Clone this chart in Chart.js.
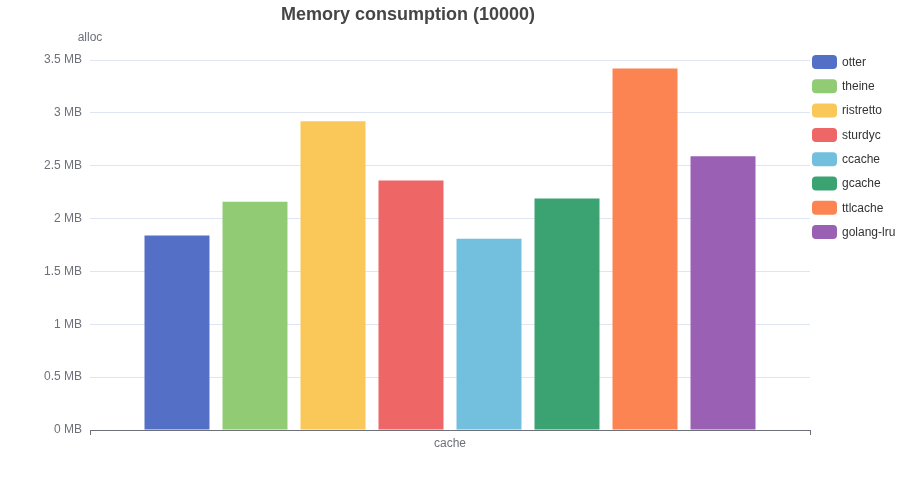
<!DOCTYPE html>
<html>
<head>
<meta charset="utf-8">
<script src="https://cdn.jsdelivr.net/npm/chart.js@4"></script>
<style>
  body { margin: 0; background: #fff; }
  #wrap { width: 900px; height: 500px; }
</style>
</head>
<body>
<div id="wrap"><canvas id="myChart"></canvas></div>
<script>
const categories = ['cache'];
const caches = ['otter', 'theine', 'ristretto', 'sturdyc', 'ccache', 'gcache', 'ttlcache', 'golang-lru'];
// alloc, MB
const allocMB = [1.84, 2.16, 2.92, 2.36, 1.81, 2.19, 3.42, 2.59];
const colors = ['#5470c6', '#91cc75', '#fac858', '#ee6666', '#73c0de', '#3ba272', '#fc8452', '#9a60b4'];
const yTicks = [0, 0.5, 1, 1.5, 2, 2.5, 3, 3.5];

const FONT = '"Liberation Sans", Arial, sans-serif';
Chart.defaults.font.family = FONT;

const extras = {
  id: 'extras',
  afterDraw(chart) {
    const c = chart.ctx;
    const area = chart.chartArea;
    c.save();
    // title
    c.fillStyle = '#464646';
    c.font = 'bold 18px ' + FONT;
    c.textAlign = 'center';
    c.textBaseline = 'middle';
    c.fillText('Memory consumption (10000)', 408, 15);
    // axis names
    c.fillStyle = '#6e7079';
    c.font = '12px ' + FONT;
    c.fillText('alloc', area.left, 38);
    c.fillText('cache', (area.left + area.right) / 2, area.bottom + 14);
    // legend
    chart.data.datasets.forEach(function (ds, i) {
      const y = 55 + i * 24.3;
      c.fillStyle = ds.backgroundColor;
      c.beginPath();
      c.roundRect(812, y, 25, 14, 4);
      c.fill();
      c.fillStyle = '#333';
      c.textAlign = 'left';
      c.fillText(ds.label, 842, y + 7.5);
    });
    c.restore();
  }
};

new Chart(document.getElementById('myChart'), {
  type: 'bar',
  data: {
    labels: categories,
    datasets: caches.map(function (name, i) {
      return {
        label: name,
        data: [allocMB[i]],
        backgroundColor: colors[i],
        borderWidth: 0,
        categoryPercentage: 0.8667,
        barPercentage: 0.833
      };
    })
  },
  options: {
    responsive: true,
    maintainAspectRatio: false,
    animation: false,
    layout: { padding: { left: 10, right: 90, top: 60, bottom: 70 } },
    plugins: {
      legend: { display: false },
      title: { display: false },
      tooltip: { enabled: false }
    },
    scales: {
      x: {
        afterFit(scale) { scale.height = 0; },
        ticks: { display: false },
        border: { color: '#6e7079', width: 1 },
        grid: { drawOnChartArea: false, drawTicks: true, tickLength: 5, color: '#6e7079', offset: true }
      },
      y: {
        min: 0,
        max: 3.5,
        afterFit(scale) { scale.width = 80; },
        afterBuildTicks(scale) { scale.ticks = yTicks.map(function (v) { return { value: v }; }); },
        border: { display: false },
        grid: { color: '#e0e6f1', drawTicks: false },
        ticks: {
          padding: 8,
          color: '#6e7079',
          font: { size: 12 },
          callback: function (v) { return v + ' MB'; }
        }
      }
    }
  },
  plugins: [extras]
});
</script>
</body>
</html>
